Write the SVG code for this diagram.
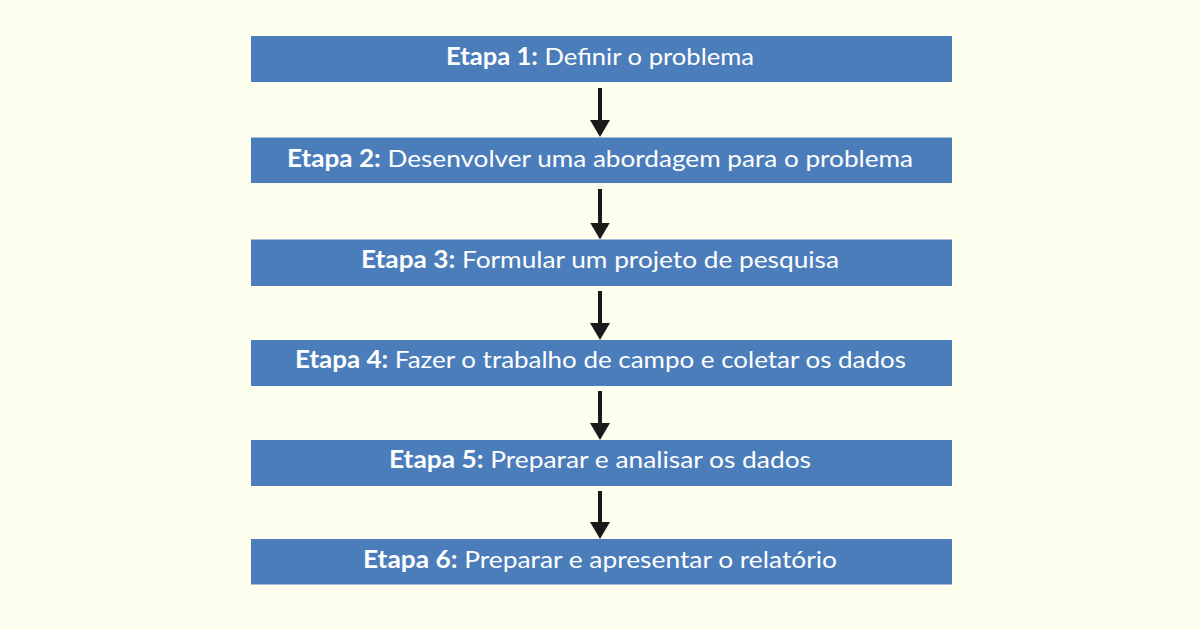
<svg xmlns="http://www.w3.org/2000/svg" width="1200" height="630" viewBox="0 0 1200 630">
<style>
.box{fill:#4b7dbb}
.lbl{font-family:Lato,"Open Sans","Liberation Sans",sans-serif;font-size:24px;fill:#ffffff;text-anchor:middle}
.b{font-weight:700}
.conn{stroke:#1a1a1a;stroke-width:4;fill:none}
</style>
<defs>
<marker id="ah" markerUnits="userSpaceOnUse" viewBox="0 0 20 17" markerWidth="20" markerHeight="17" refX="10" refY="7" orient="0">
<path d="M0,0 L20,0 L10,17 Z" fill="#1a1a1a"/>
</marker>
</defs>
<rect width="1200" height="630" fill="#fefeee"/>
<g id="connectors">
<line class="conn" x1="600" y1="88" x2="600" y2="127" marker-end="url(#ah)"/>
<line class="conn" x1="600" y1="189" x2="600" y2="229.5" marker-end="url(#ah)"/>
<line class="conn" x1="600" y1="291" x2="600" y2="330" marker-end="url(#ah)"/>
<line class="conn" x1="600" y1="391" x2="600" y2="430" marker-end="url(#ah)"/>
<line class="conn" x1="600" y1="491" x2="600" y2="529" marker-end="url(#ah)"/>
</g>
<g id="node1">
<rect class="box" x="251" y="36" width="701" height="46"/>
<text class="lbl" x="600" y="64.5" textLength="308" lengthAdjust="spacingAndGlyphs"><tspan class="b">Etapa 1:</tspan> Definir o problema</text>
</g>
<g id="node2">
<rect class="box" x="251" y="137.5" width="701" height="45.5"/>
<text class="lbl" x="600" y="166.5" textLength="626" lengthAdjust="spacingAndGlyphs"><tspan class="b">Etapa 2:</tspan> Desenvolver uma abordagem para o problema</text>
</g>
<g id="node3">
<rect class="box" x="251" y="239.5" width="701" height="46.5"/>
<text class="lbl" x="600" y="268.3" textLength="478" lengthAdjust="spacingAndGlyphs"><tspan class="b">Etapa 3:</tspan> Formular um projeto de pesquisa</text>
</g>
<g id="node4">
<rect class="box" x="251" y="340" width="701" height="46"/>
<text class="lbl" x="600.5" y="368.3" textLength="611" lengthAdjust="spacingAndGlyphs"><tspan class="b">Etapa 4:</tspan> Fazer o trabalho de campo e coletar os dados</text>
</g>
<g id="node5">
<rect class="box" x="251" y="440" width="701" height="46"/>
<text class="lbl" x="600" y="468.3" textLength="422" lengthAdjust="spacingAndGlyphs"><tspan class="b">Etapa 5:</tspan> Preparar e analisar os dados</text>
</g>
<g id="node6">
<rect class="box" x="251" y="539" width="701" height="45.5"/>
<text class="lbl" x="600" y="567.5" textLength="474" lengthAdjust="spacingAndGlyphs"><tspan class="b">Etapa 6:</tspan> Preparar e apresentar o relatório</text>
</g>
</svg>
